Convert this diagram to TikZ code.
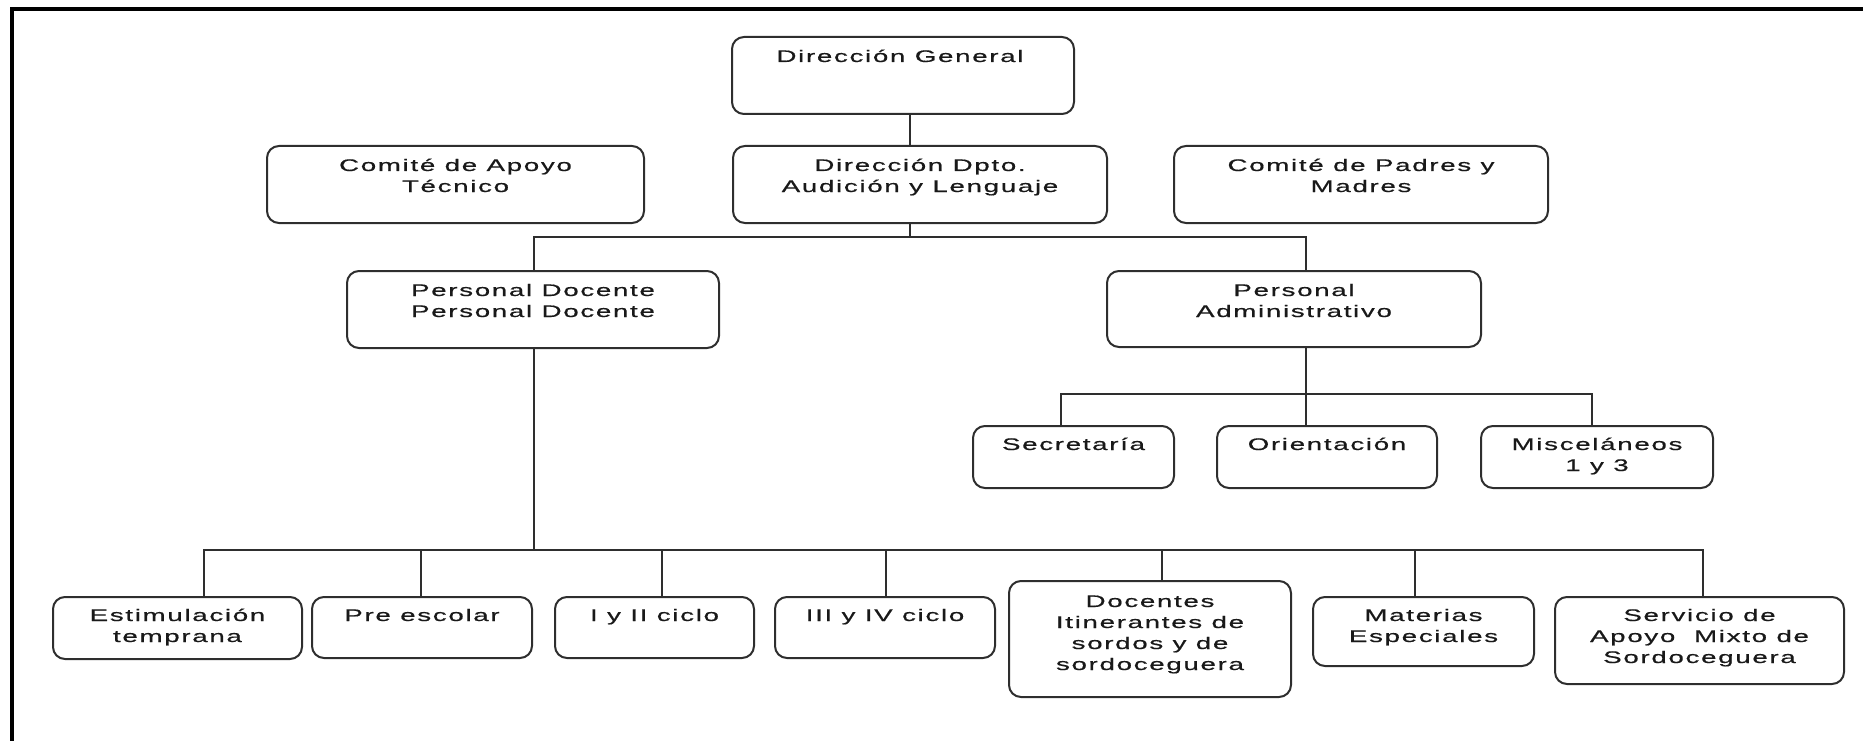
\documentclass[tikz,border=0pt]{standalone}
\usepackage{fontspec}
\setmainfont[LetterSpace=10,FakeStretch=1.65,FakeBold=0.6]{Liberation Sans}
\usetikzlibrary{calc}
\definecolor{ink}{HTML}{2E2E2E}
\begin{document}
\begin{tikzpicture}[x=1pt,y=-1pt,
  box/.style={draw=ink, line width=2pt, rounded corners=12pt, inner sep=0pt},
  txt/.style={font=\fontsize{16.8}{21}\selectfont, align=center, inner sep=0pt, anchor=base, text=black!90},
  wire/.style={draw=ink, line width=2.2pt},
  frame/.style={draw=black, line width=4pt}]
\useasboundingbox (0,0) rectangle (1863,741);

% outer frame: top and left edges only
\coordinate (fbl) at (11.5,741);
\coordinate (ftl) at (11.5,9);
\coordinate (ftr) at (1863,9);
\draw[frame] (fbl) -- (ftl) -- (ftr);

% boxes
\node[box, minimum width=342, minimum height=77] (dg)  at (903,75.5)    {};
\node[box, minimum width=377, minimum height=77] (cat) at (455.5,184.5) {};
\node[box, minimum width=374, minimum height=77] (dd)  at (920,184.5)   {};
\node[box, minimum width=374, minimum height=77] (cpm) at (1361,184.5)  {};
\node[box, minimum width=372, minimum height=77] (pd)  at (533,309.5)   {};
\node[box, minimum width=374, minimum height=76] (pa)  at (1294,309)    {};
\node[box, minimum width=201, minimum height=62] (sec) at (1073.5,457)  {};
\node[box, minimum width=220, minimum height=62] (ori) at (1327,457)    {};
\node[box, minimum width=232, minimum height=62] (mis) at (1597,457)    {};
\node[box, minimum width=249, minimum height=62] (est) at (177.5,628)   {};
\node[box, minimum width=220, minimum height=61] (pre) at (422,627.5)   {};
\node[box, minimum width=199, minimum height=61] (c12) at (654.5,627.5) {};
\node[box, minimum width=220, minimum height=61] (c34) at (885,627.5)   {};
\node[box, minimum width=282, minimum height=116] (doc) at (1150,639)   {};
\node[box, minimum width=221, minimum height=69] (mat) at (1423.5,631.5) {};
\node[box, minimum width=289, minimum height=87] (ser) at (1699.5,640.5) {};

% labels; the base anchor sits on the last line, so it is placed
% (lines-1) x 21 below the first baseline
\node[txt] (dg-t)  at ($(dg.north)+(-3,26)$)  {Dirección General};
\node[txt] (cat-t) at ($(cat.north)+(0,47)$)  {Comité de Apoyo\\Técnico};
\node[txt] (dd-t)  at ($(dd.north)+(0,47)$)   {Dirección Dpto.\\Audición y Lenguaje};
\node[txt] (cpm-t) at ($(cpm.north)+(0,47)$)  {Comité de Padres y\\Madres};
\node[txt] (pd-t)  at ($(pd.north)+(0,47)$)   {Personal Docente\\Personal Docente};
\node[txt] (pa-t)  at ($(pa.north)+(0,47)$)   {Personal\\Administrativo};
\node[txt] (sec-t) at ($(sec.north)+(0,25)$)  {Secretaría};
\node[txt] (ori-t) at ($(ori.north)+(0,25)$)  {Orientación};
\node[txt] (mis-t) at ($(mis.north)+(0,46)$)  {Misceláneos\\1 y 3};
\node[txt] (est-t) at ($(est.north)+(0,46)$)  {Estimulación\\temprana};
\node[txt] (pre-t) at ($(pre.north)+(0,25)$)  {Pre escolar};
\node[txt] (c12-t) at ($(c12.north)+(0,25)$)  {I y II ciclo};
\node[txt] (c34-t) at ($(c34.north)+(0,25)$)  {III y IV ciclo};
\node[txt] (doc-t) at ($(doc.north)+(0,90)$)  {Docentes\\Itinerantes de\\sordos y de\\sordoceguera};
\node[txt] (mat-t) at ($(mat.north)+(0,46)$)  {Materias\\Especiales};
\node[txt] (ser-t) at ($(ser.north)+(0,67)$)  {Servicio de\\Apoyo\ \ Mixto de\\Sordoceguera};

% junction points of the buses
\coordinate (j1) at (910,237);
\coordinate (bl) at (534,237);
\coordinate (br) at (1306,237);
\coordinate (a0) at (1306,394);
\coordinate (a1) at (1061,394);
\coordinate (a3) at (1592,394);
\coordinate (d0) at (534,550);
\coordinate (d1) at (204,550);
\coordinate (d2) at (421,550);
\coordinate (d3) at (662,550);
\coordinate (d4) at (886,550);
\coordinate (d5) at (1162,550);
\coordinate (d6) at (1415,550);
\coordinate (d7) at (1703,550);

% connectors
\draw[wire] (dg.south -| j1) -- (dd.north -| j1);
\draw[wire] (dd.south -| j1) -- (j1);
\draw[wire] (pd.north -| bl) |- (br) -- (pa.north -| br);

\draw[wire] (pa.south -| a0) -- (ori.north -| a0);
\draw[wire] (sec.north -| a1) |- (a3) -- (mis.north -| a3);

\draw[wire] (pd.south -| d0) -- (d0);
\draw[wire] (est.north -| d1) |- (d7) -- (ser.north -| d7);
\draw[wire] (d2) -- (pre.north -| d2);
\draw[wire] (d3) -- (c12.north -| d3);
\draw[wire] (d4) -- (c34.north -| d4);
\draw[wire] (d5) -- (doc.north -| d5);
\draw[wire] (d6) -- (mat.north -| d6);
\end{tikzpicture}
\end{document}
